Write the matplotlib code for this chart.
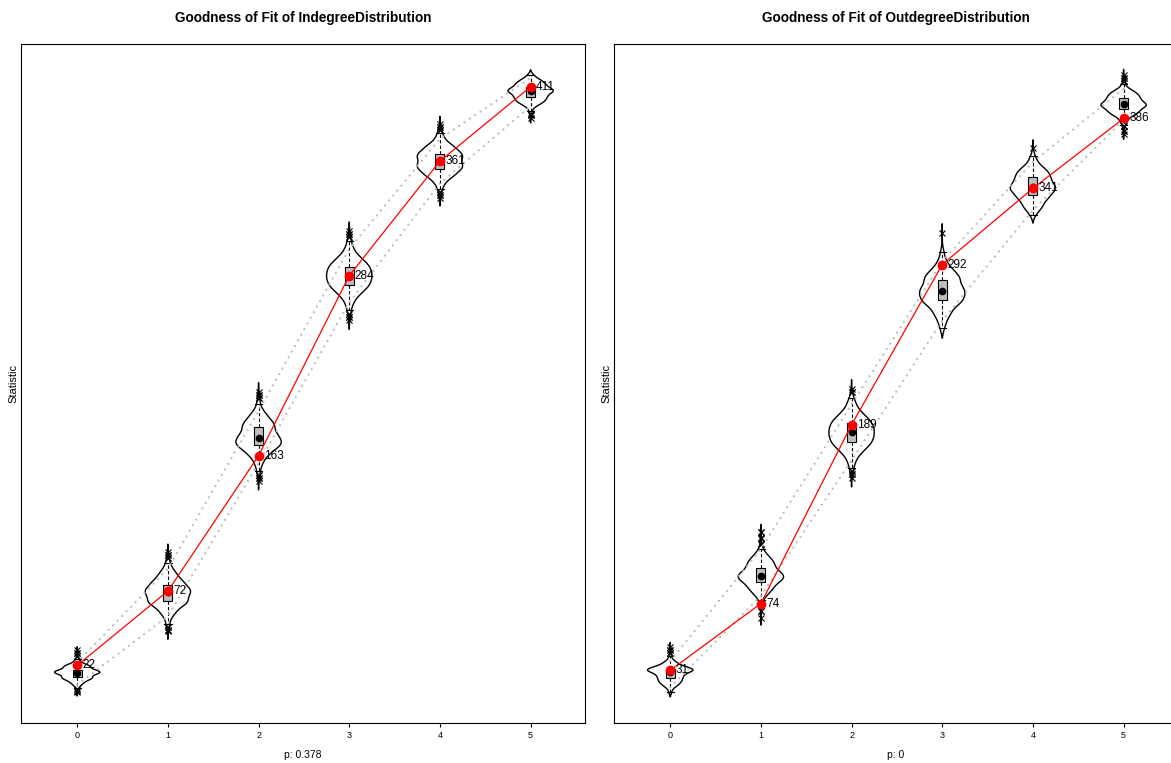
import numpy as np
import matplotlib
matplotlib.use("Agg")
import matplotlib.pyplot as plt
from matplotlib import mlab

plt.rcParams['font.family'] = ['Liberation Sans', 'DejaVu Sans']

degrees = ['0', '1', '2', '3', '4', '5']

# simulated statistics, read off as value -> how often it came up
full = [1, 2, 2, 8, 20, 40, 52, 55, 60, 62, 60, 55, 52, 40, 20, 8, 2, 2, 1]
no_top = [1, 2, 2, 8, 20, 40, 52, 55, 60, 62, 60, 55, 52, 40, 20, 10]
no_bottom = [10, 20, 40, 52, 55, 60, 62, 60, 55, 52, 40, 20, 8, 2, 2, 1]
one_top = [10, 20, 40, 52, 55, 60, 62, 60, 55, 52, 40, 20, 9, 1]

in_values = [
    [4, 5, 6, 7, 9, 11, 13, 14, 16, 17, 18, 19, 21, 22, 24, 26, 28, 30, 32],
    [45, 46, 48, 50, 55, 59, 63, 65, 68, 71, 73, 76, 79, 83, 87, 91, 94, 96, 98],
    [146, 148, 150, 153, 158, 163, 167, 170, 172, 175, 178, 182, 185, 189, 193, 198, 202, 204, 206],
    [254, 256, 258, 261, 266, 271, 275, 278, 281, 284, 287, 290, 293, 297, 302, 307, 310, 312, 314],
    [336, 338, 340, 342, 346, 350, 353, 356, 358, 361, 364, 366, 369, 372, 376, 380, 382, 384, 386],
    [390, 392, 393, 395, 398, 400, 402, 404, 406, 408, 409, 411, 413, 415, 417, 419],
]
in_counts = [full, full, full, full, full, no_top]
in_observed = [22, 72, 163, 284, 361, 411]
in_p = 0.378

out_values = [
    [17, 20, 22, 24, 26, 28, 30, 31, 32, 33, 35, 37, 40, 42, 44, 46],
    [65, 69, 73, 76, 79, 82, 85, 88, 90, 92, 94, 97, 100, 103, 106, 109, 112, 116, 120],
    [155, 157, 159, 161, 166, 171, 175, 178, 181, 184, 187, 190, 193, 197, 202, 206, 210, 212],
    [251, 256, 261, 266, 269, 272, 275, 278, 282, 285, 289, 294, 300, 312],
    [324, 327, 330, 334, 337, 340, 342, 345, 348, 351, 354, 358, 362, 367],
    [376, 378, 381, 382, 385, 388, 390, 392, 394, 395, 397, 399, 401, 403, 405, 408, 410, 412, 414],
]
out_counts = [no_bottom,
              [1, 2, 2, 8, 20, 40, 52, 55, 60, 62, 60, 55, 52, 40, 20, 8, 3, 3, 2],
              [1, 2, 2, 8, 20, 40, 52, 55, 60, 62, 60, 55, 52, 40, 20, 8, 2, 1],
              one_top, one_top, full]
out_observed = [31, 74, 189, 292, 341, 386]
out_p = 0


def gof_panel(ax, values, counts, observed, p, name):
    sims = [np.repeat(v, c) for v, c in zip(values, counts)]
    pos = np.arange(len(degrees))

    # violins (kde runs a bit past the data like R's density)
    stats = []
    for s in sims:
        kde = mlab.GaussianKDE(s, bw_method=0.3)
        bw = float(np.sqrt(kde.covariance[0, 0]))
        coords = np.linspace(s.min() - 2 * bw, s.max() + 2 * bw, 400)
        stats.append(dict(coords=coords, vals=kde.evaluate(coords), mean=s.mean(),
                          median=np.median(s), min=s.min(), max=s.max()))
    vp = ax.violin(stats, positions=pos, widths=0.5, showmeans=False,
                   showextrema=False, showmedians=False)
    for body in vp['bodies']:
        body.set_alpha(1)
        body.set_facecolor('none')
        body.set_edgecolor('black')
        body.set_linewidth(1.0)

    ax.boxplot(sims, positions=pos, widths=0.1, whis=1.5, patch_artist=True,
               capwidths=0.08, manage_ticks=False,
               boxprops=dict(facecolor='#BEBEBE', edgecolor='black', linewidth=0.8),
               whiskerprops=dict(color='black', linewidth=0.8, linestyle=(0, (3, 2))),
               capprops=dict(color='black', linewidth=0.8),
               medianprops=dict(visible=False),
               flierprops=dict(marker='x', markersize=5, markeredgecolor='black',
                               markeredgewidth=0.8))
    ax.plot(pos, [np.median(s) for s in sims], 'o', color='black', ms=4.5, zorder=4)

    # 2.5% and 97.5% bands
    lo = [np.percentile(s, 2.5) for s in sims]
    hi = [np.percentile(s, 97.5) for s in sims]
    for band in (lo, hi):
        ax.plot(pos, band, color='#BEBEBE', lw=1.6, linestyle=(0, (0.1, 2.8)),
                dash_capstyle='round', zorder=3)

    ax.plot(pos, observed, color='red', lw=0.9, zorder=5)
    ax.plot(pos, observed, 'o', color='red', ms=6, zorder=6)
    for x, v in zip(pos, observed):
        ax.annotate(str(v), (x, v), xytext=(4, 0), textcoords='offset points',
                    va='center', ha='left', fontsize=8.5, zorder=7)

    smin = min(min(v) for v in values + [observed])
    smax = max(max(v) for v in values + [observed])
    ax.set_ylim(1.05 * smin - 0.05 * smax, -0.05 * smin + 1.05 * smax)
    ax.set_xlim(-0.62, 5.6)
    ax.set_yticks([])
    ax.set_xticks(pos)
    ax.set_xticklabels(degrees, fontsize=6.5)
    ax.tick_params(axis='x', length=3, width=0.8, pad=3)
    for sp in ax.spines.values():
        sp.set_linewidth(0.8)
    ax.set_xlabel(f'p: {p}', fontsize=7.5, labelpad=7)
    ax.set_ylabel('Statistic', fontsize=8, labelpad=2)
    ax.set_title(f'Goodness of Fit of {name}', fontsize=9.8, fontweight='bold', pad=16)


fig = plt.figure(figsize=(11.71, 7.63), dpi=100)
ax1 = fig.add_axes([21 / 1171, 40 / 763, 564 / 1171, 679 / 763])
ax2 = fig.add_axes([614 / 1171, 40 / 763, 564 / 1171, 679 / 763])

gof_panel(ax1, in_values, in_counts, in_observed, in_p, 'IndegreeDistribution')
gof_panel(ax2, out_values, out_counts, out_observed, out_p, 'OutdegreeDistribution')

fig.savefig('out.png', dpi=100)
